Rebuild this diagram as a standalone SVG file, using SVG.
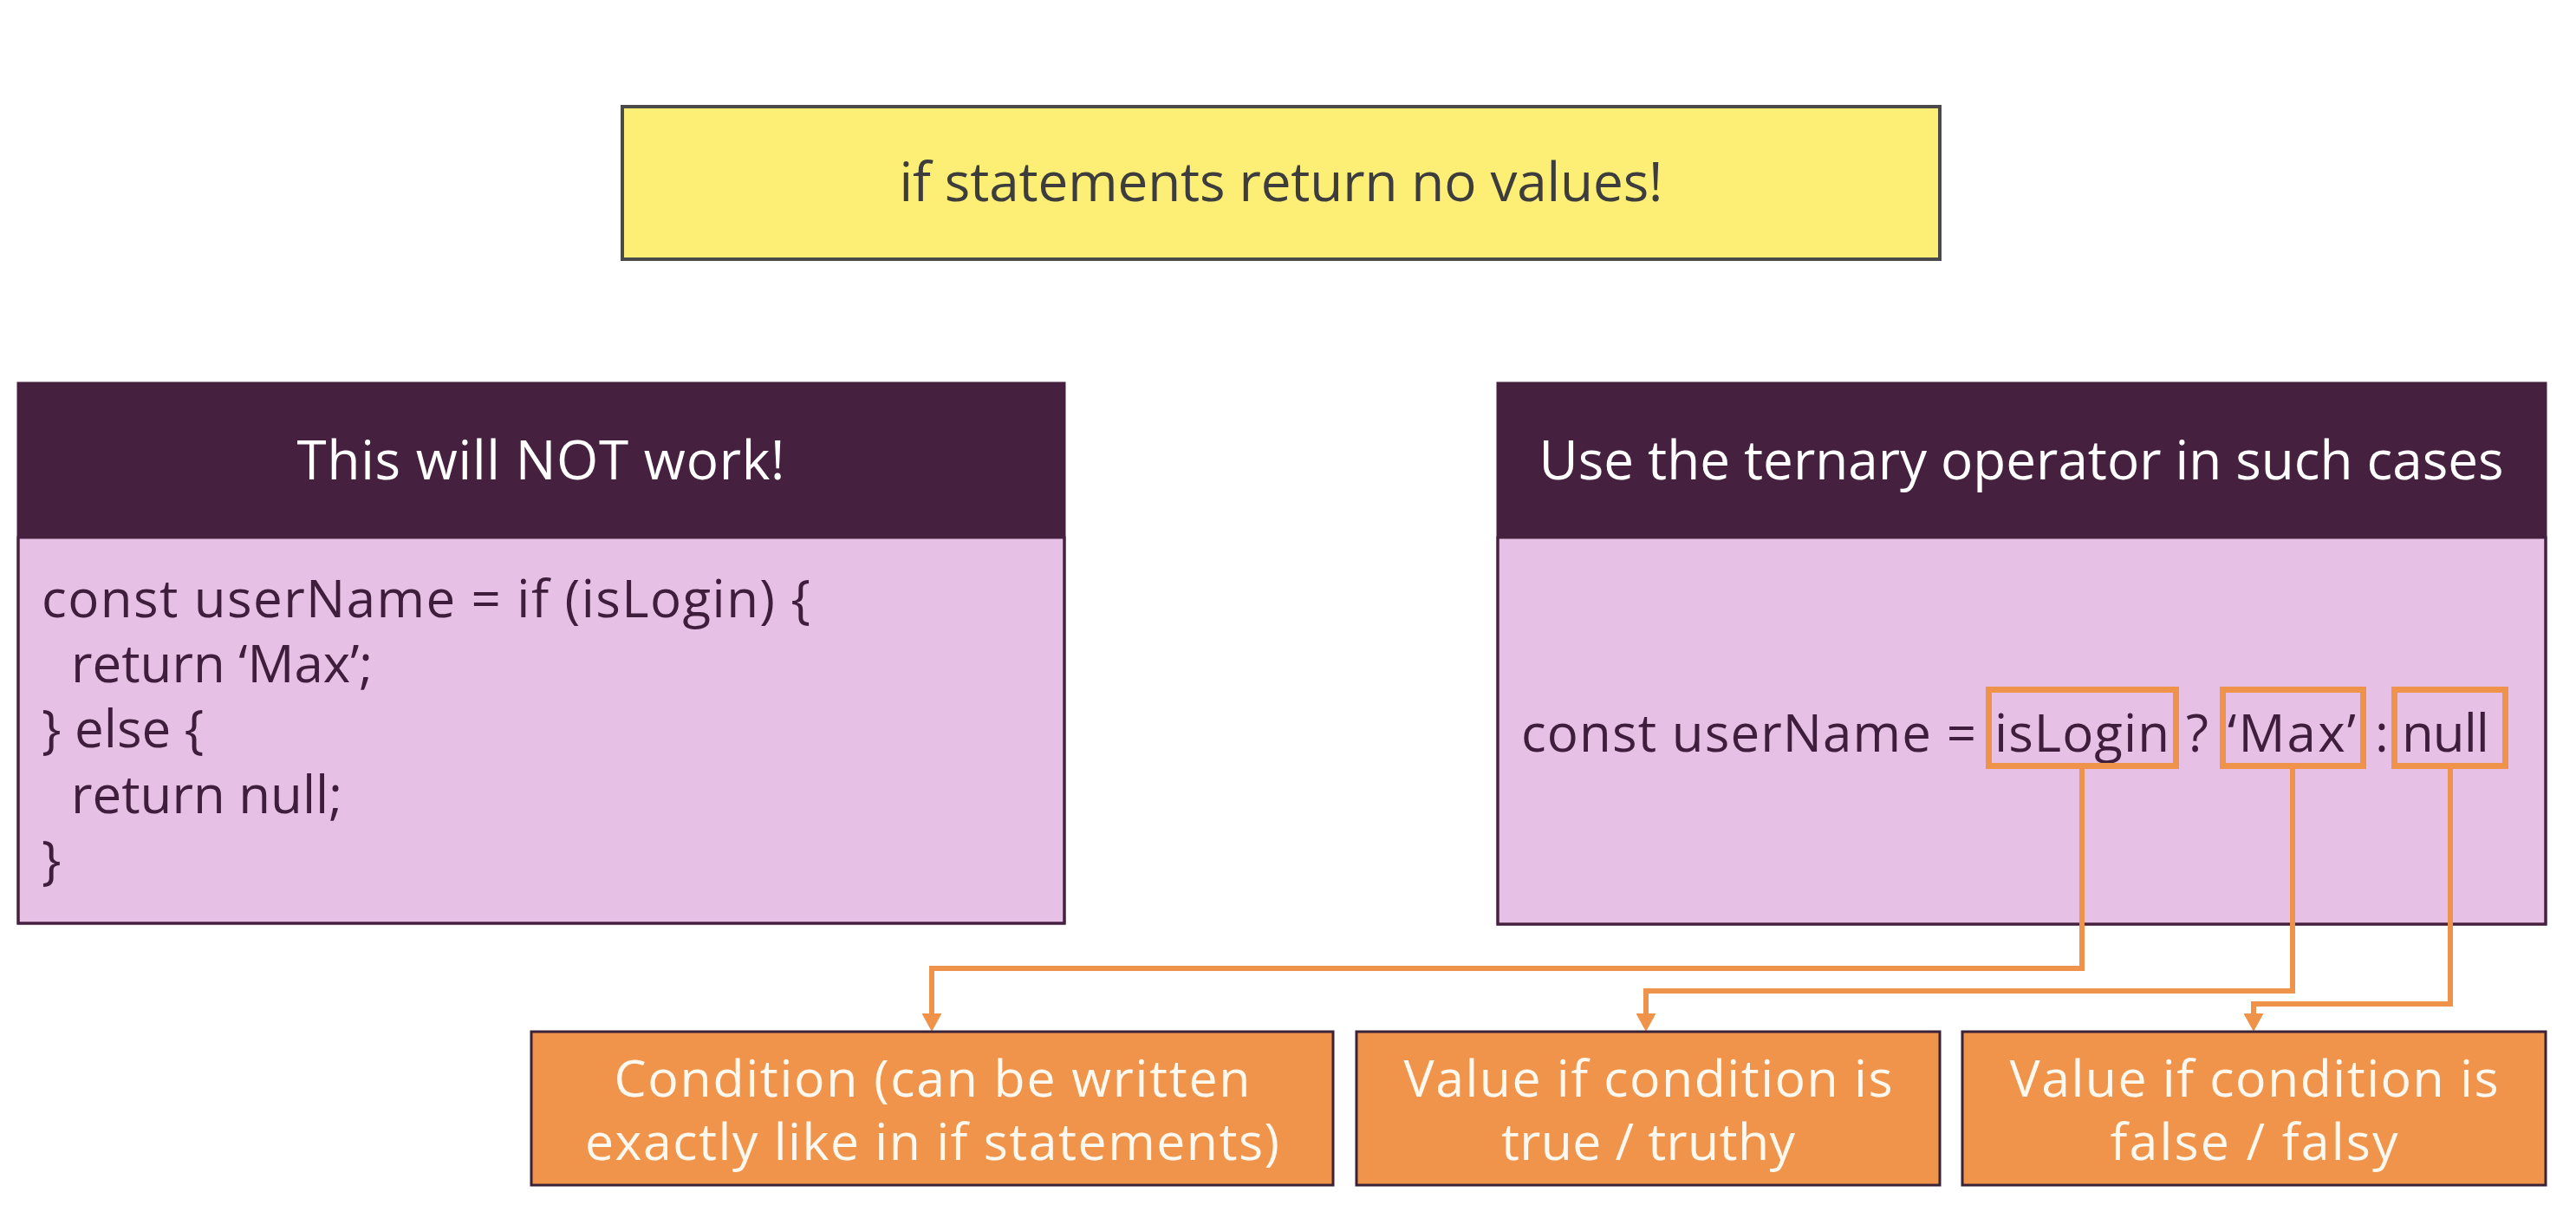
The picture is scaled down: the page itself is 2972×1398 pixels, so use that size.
<svg xmlns="http://www.w3.org/2000/svg" width="2972" height="1398" viewBox="0 0 2972 1398">
  <defs>
    <style>
      .t { font-family: "Open Sans", "Liberation Sans", sans-serif; }
      .note { fill: #FDEE75; stroke: #4a4a4a; stroke-width: 4; }
      .head { fill: #46213F; }
      .body { fill: #E7C1E5; stroke: #46213F; stroke-width: 3; }
      .frame { fill: none; stroke: #46213F; stroke-width: 3; }
      .title { font-size: 62px; fill: #FFFFFF; text-anchor: middle; }
      .code { font-size: 60px; fill: #3F1D3C; }
      .hl { fill: none; stroke: #F0934A; stroke-width: 7; }
      .lbl { fill: #F0934B; stroke: #3a2238; stroke-width: 3; }
      .lbltxt { font-size: 59px; fill: #FFF8EE; text-anchor: middle; }
      .conn { fill: none; stroke: #F0934A; stroke-width: 6; stroke-linejoin: miter; }
    </style>
    <marker id="arrow" viewBox="0 0 21 23" refX="0" refY="11.5" markerWidth="21" markerHeight="23" markerUnits="userSpaceOnUse" orient="auto">
      <path d="M0,0 L21,11.5 L0,23 Z" fill="#F0934A"/>
    </marker>
  </defs>

  <rect width="2972" height="1398" fill="#FFFFFF"/>

  <g id="note">
    <rect class="note" x="718" y="123" width="1520" height="176"/>
    <text class="t" x="1478" y="232" font-size="62" fill="#3d3d3d" text-anchor="middle" textLength="881">if statements return no values!</text>
  </g>

  <g id="left-box">
    <rect class="body" x="21" y="620" width="1207" height="445"/>
    <rect class="head" x="21" y="442" width="1207" height="178"/>
    <rect class="frame" x="21" y="442" width="1207" height="623"/>
    <text class="t title" x="624" y="553" textLength="563">This will NOT work!</text>
    <text class="t code" x="48" y="712" textLength="887">const userName = if (isLogin) {</text>
    <text class="t code" x="82" y="787">return ‘Max’;</text>
    <text class="t code" x="48" y="862">} else {</text>
    <text class="t code" x="82" y="938">return null;</text>
    <text class="t code" x="48" y="1013">}</text>
  </g>

  <g id="right-box">
    <rect class="body" x="1728" y="620" width="1209" height="446"/>
    <rect class="head" x="1728" y="442" width="1209" height="178"/>
    <rect class="frame" x="1728" y="442" width="1209" height="624"/>
    <text class="t title" x="2332" y="553" textLength="1113">Use the ternary operator in such cases</text>
    <text class="t code" x="1755" y="867" textLength="525">const userName =</text>
    <text class="t code" x="2301" y="867" textLength="202">isLogin</text>
    <text class="t code" x="2522" y="867">?</text>
    <text class="t code" x="2570" y="867" textLength="148">‘Max’</text>
    <text class="t code" x="2740" y="867">:</text>
    <text class="t code" x="2771" y="867" textLength="101">null</text>
    <rect class="hl" x="2294.5" y="795.5" width="216" height="88"/>
    <rect class="hl" x="2564.5" y="795.5" width="162" height="88"/>
    <rect class="hl" x="2762.5" y="795.5" width="128" height="88"/>
  </g>

  <g id="connectors">
    <path class="conn" d="M2402,884 V1117 H1075 V1169" marker-end="url(#arrow)"/>
    <path class="conn" d="M2645,884 V1143 H1899 V1169" marker-end="url(#arrow)"/>
    <path class="conn" d="M2827,884 V1158 H2600 V1169" marker-end="url(#arrow)"/>
  </g>

  <g id="condition">
    <rect class="lbl" x="613" y="1190" width="925" height="177"/>
    <text class="t lbltxt" x="1075.5" y="1265" textLength="734">Condition (can be written</text>
    <text class="t lbltxt" x="1075.5" y="1338" textLength="801">exactly like in if statements)</text>
  </g>

  <g id="value-true">
    <rect class="lbl" x="1565" y="1190" width="673" height="177"/>
    <text class="t lbltxt" x="1901.5" y="1265" textLength="564">Value if condition is</text>
    <text class="t lbltxt" x="1901.5" y="1338" textLength="339">true / truthy</text>
  </g>

  <g id="value-false">
    <rect class="lbl" x="2264" y="1190" width="673" height="177"/>
    <text class="t lbltxt" x="2600.5" y="1265" textLength="564">Value if condition is</text>
    <text class="t lbltxt" x="2600.5" y="1338" textLength="332">false / falsy</text>
  </g>
</svg>
